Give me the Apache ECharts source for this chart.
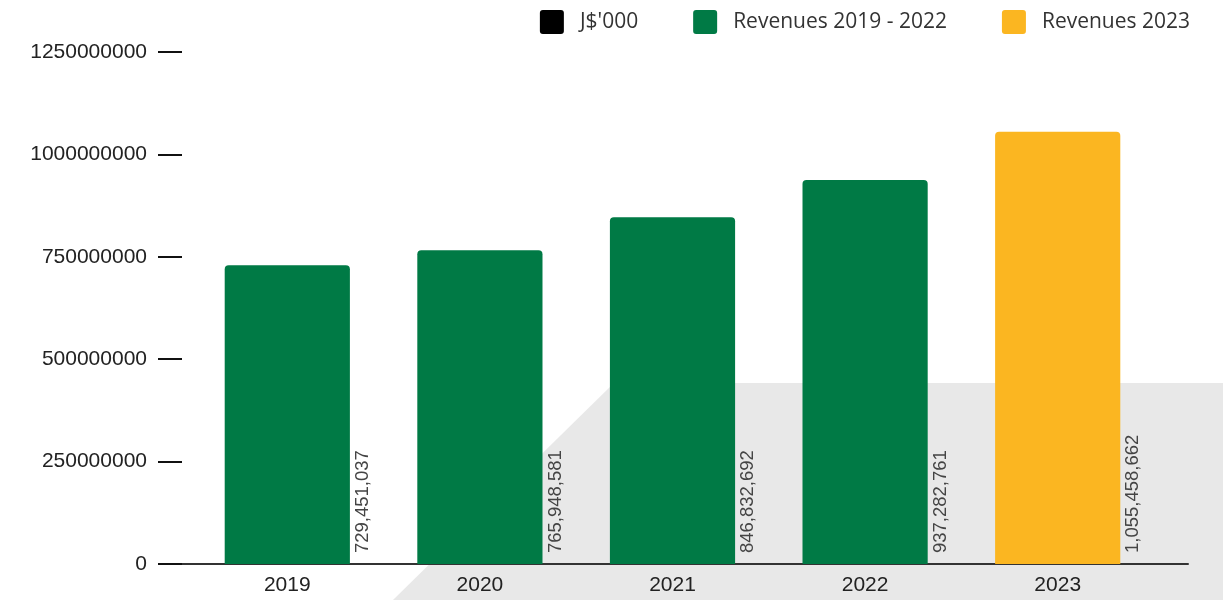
<!DOCTYPE html>
<html>
<head>
<meta charset="utf-8">
<script src="https://cdn.jsdelivr.net/npm/echarts@6/dist/echarts.min.js"></script>
<style>
html,body{margin:0;padding:0;background:#fff;}
#chart{width:1223px;height:600px;}
</style>
</head>
<body>
<div id="chart"></div>
<script>
var categories = ['2019', '2020', '2021', '2022', '2023'];
var revenues2019to2022 = [729451037, 765948581, 846832692, 937282761, '-'];
var revenues2023 = ['-', '-', '-', '-', 1055458662];
var yTicks = { min: 0, max: 1250000000, interval: 250000000 };
var seriesNames = ["J$'000", 'Revenues 2019 - 2022', 'Revenues 2023'];

var chart = echarts.init(document.getElementById('chart'));
var axisFont = 'Liberation Sans, Arial, sans-serif';
var iconPath = 'path://M3,0H21A3,3 0 0 1 24,3V21A3,3 0 0 1 21,24H3A3,3 0 0 1 0,21V3A3,3 0 0 1 3,0Z';
var labelCfg = {
  show: true,
  position: ['100%', '100%'],
  rotate: 90,
  align: 'left',
  verticalAlign: 'middle',
  offset: [11, 13],
  fontSize: 18.5,
  color: '#444',
  fontFamily: 'Liberation Sans, Arial, sans-serif',
  formatter: function (p) { return Number(p.value).toLocaleString('en-US'); }
};
chart.setOption({
  backgroundColor: '#fff',
  animation: false,
  graphic: [{
    type: 'polygon',
    z: -10,
    silent: true,
    shape: { points: [[393, 600], [614, 383], [1223, 383], [1223, 600]] },
    style: { fill: '#e8e8e8' }
  }],
  legend: {
    top: 5,
    right: 28,
    itemWidth: 24,
    itemHeight: 24,
    itemGap: 55,
    icon: iconPath,
    data: seriesNames,
    textStyle: { fontSize: 21, color: '#333', fontFamily: 'Open Sans, sans-serif', padding: [4, 0, 0, 11] }
  },
  grid: [
    { left: 182, right: 35, top: 52, bottom: 36 },
    { left: 191, right: 69, top: 52, bottom: 36 }
  ],
  xAxis: [
    {
      type: 'category', gridIndex: 0, data: categories,
      axisLine: { show: true, lineStyle: { color: '#333', width: 2 } },
      axisTick: { show: false }, axisLabel: { show: false }, splitLine: { show: false }
    },
    {
      type: 'category', gridIndex: 1, data: categories,
      axisLine: { show: false }, axisTick: { show: false },
      axisLabel: { fontSize: 21, color: '#222', margin: 11, fontFamily: axisFont }
    }
  ],
  yAxis: [
    {
      type: 'value', gridIndex: 0, min: yTicks.min, max: yTicks.max, interval: yTicks.interval,
      axisLine: { show: false },
      axisTick: { show: true, length: 24, lineStyle: { color: '#111', width: 2 } },
      splitLine: { show: false },
      axisLabel: {
        fontSize: 21, color: '#222', margin: 35, fontFamily: axisFont,
        formatter: function (v) { return String(v); }
      }
    },
    {
      type: 'value', gridIndex: 1, min: yTicks.min, max: yTicks.max, interval: yTicks.interval, show: false,
      splitLine: { show: false }
    }
  ],
  series: [
    { name: seriesNames[0], type: 'bar', xAxisIndex: 1, yAxisIndex: 1, data: [], itemStyle: { color: '#000' } },
    {
      name: seriesNames[1], type: 'bar', xAxisIndex: 1, yAxisIndex: 1, stack: 'rev',
      barWidth: '65%', data: revenues2019to2022,
      itemStyle: { color: '#007A45', borderRadius: [4, 4, 0, 0] }, label: labelCfg
    },
    {
      name: seriesNames[2], type: 'bar', xAxisIndex: 1, yAxisIndex: 1, stack: 'rev',
      barWidth: '65%', data: revenues2023,
      itemStyle: { color: '#FBB621', borderRadius: [4, 4, 0, 0] }, label: labelCfg
    }
  ]
});
</script>
</body>
</html>
